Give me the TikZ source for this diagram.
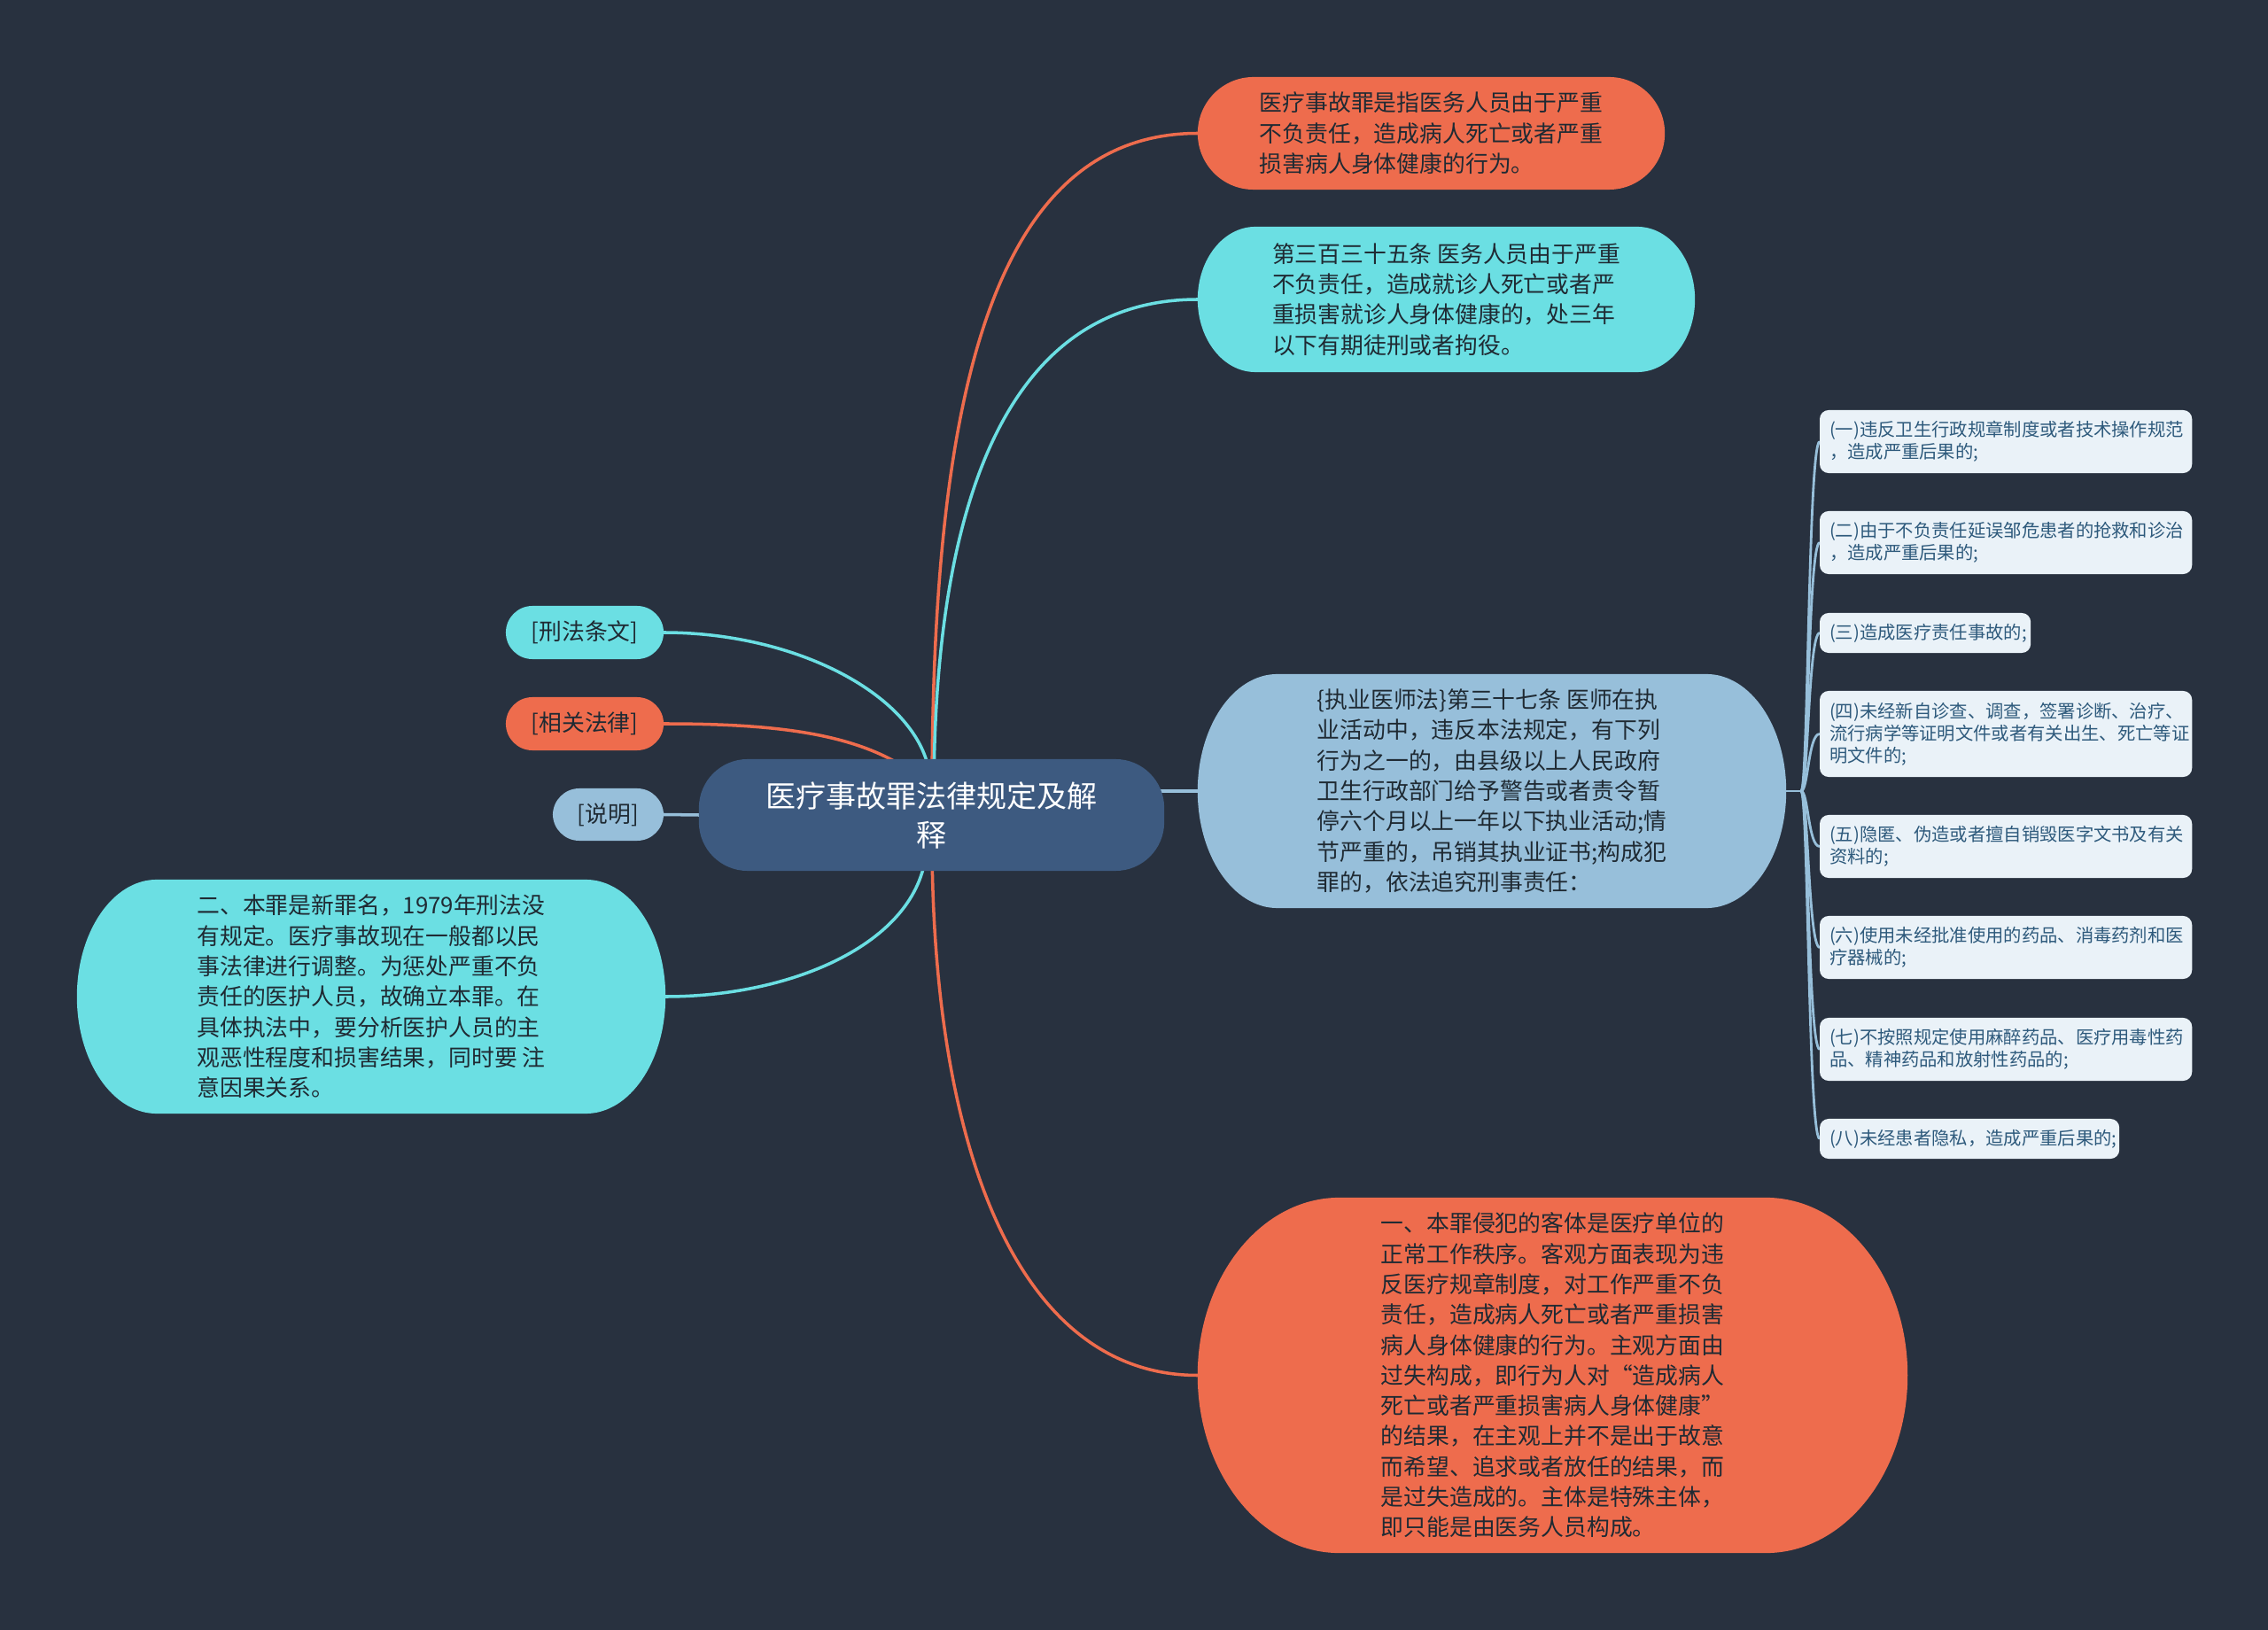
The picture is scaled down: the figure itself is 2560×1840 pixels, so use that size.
\documentclass[tikz,border=0pt]{standalone}
\usepackage{fontspec}
\newfontfamily\cjk{Noto Sans CJK SC}
\usetikzlibrary{calc}
\definecolor{bgc}{HTML}{28313F}
\definecolor{orn}{HTML}{EE6C4D}
\definecolor{cyn}{HTML}{6BDFE3}
\definecolor{lbl}{HTML}{97BFDA}
\definecolor{ctr}{HTML}{3D5A80}
\definecolor{itm}{HTML}{EAF2F8}
\definecolor{itx}{HTML}{2E5A7C}
\definecolor{ink}{HTML}{1F2A33}
\pgfdeclarelayer{bg}
\pgfdeclarelayer{edges}
\pgfdeclarelayer{fills}
\pgfsetlayers{bg,edges,fills,main}
\newcommand{\pillshape}[4]{%
\begin{pgfonlayer}{fills}
\fill[#2] ([xshift=#3]#1.north west) -- ([xshift=-#3]#1.north east)
  arc[start angle=90,end angle=-90,x radius=#3,y radius=#4]
  -- ([xshift=#3]#1.south west)
  arc[start angle=270,end angle=90,x radius=#3,y radius=#4] -- cycle;
\end{pgfonlayer}}
\tikzset{
  txt/.style={font=\cjk\fontsize{7.34pt}{9.76pt}\selectfont, text=ink, align=left, inner sep=0pt, outer sep=0pt},
  tag/.style={txt, rounded corners=0.3cm, minimum height=0.6cm, align=center},
  ctrbox/.style={font=\cjk\fontsize{9.67pt}{12.5pt}\selectfont, text=white, align=center,
     fill=ctr, rounded corners=0.55cm, minimum width=5.25cm, minimum height=1.26cm, inner sep=0pt, outer sep=0pt},
  item/.style={font=\cjk\fontsize{5.78pt}{7.11pt}\selectfont, text=itx, align=left, fill=itm,
     rounded corners=0.1cm, inner xsep=0.11cm, inner ysep=0pt, outer sep=0pt, anchor=west},
  conn/.style={line width=1pt},
  tree/.style={line width=0.8pt, lbl},
}
\begin{document}
\begin{tikzpicture}[x=0.01cm,y=-0.01cm]
\begin{pgfonlayer}{bg}
\fill[bgc] (0,0) rectangle (2560,1840);
\end{pgfonlayer}
\useasboundingbox (0,0) rectangle (2560,1840);

% central
\node[ctrbox] (C) at (1051.5,920) {医疗事故罪法律规定及解\\释};

% right main nodes
\node[txt, minimum width=5.27cm, minimum height=1.27cm] (T1) at (1615.5,150.5)
 {医疗事故罪是指医务人员由于严重\\不负责任，造成病人死亡或者严重\\损害病人身体健康的行为。};
\pillshape{T1}{orn}{0.63cm}{0.635cm}

\node[txt, minimum width=5.61cm, minimum height=1.64cm] (T2) at (1632.5,338)
 {第三百三十五条 医务人员由于严重\\不负责任，造成就诊人死亡或者严\\重损害就诊人身体健康的，处三年\\以下有期徒刑或者拘役。};
\pillshape{T2}{cyn}{0.65cm}{0.82cm}

\node[txt, minimum width=6.64cm, minimum height=2.64cm] (R) at (1684,893)
 {\{执业医师法\}第三十七条 医师在执\\业活动中，违反本法规定，有下列\\行为之一的，由县级以上人民政府\\卫生行政部门给予警告或者责令暂\\停六个月以上一年以下执业活动;情\\节严重的，吊销其执业证书;构成犯\\罪的，依法追究刑事责任：};
\pillshape{R}{lbl}{0.9cm}{1.32cm}

\node[txt, minimum width=8.01cm, minimum height=4.01cm] (B) at (1752.5,1552.5)
 {一、本罪侵犯的客体是医疗单位的\\正常工作秩序。客观方面表现为违\\反医疗规章制度，对工作严重不负\\责任，造成病人死亡或者严重损害\\病人身体健康的行为。主观方面由\\过失构成，即行为人对“造成病人\\死亡或者严重损害病人身体健康”\\的结果，在主观上并不是出于故意\\而希望、追求或者放任的结果，而\\是过失造成的。主体是特殊主体，\\即只能是由医务人员构成。};
\pillshape{B}{orn}{1.6cm}{2.005cm}

% left nodes
\node[txt, minimum width=6.64cm, minimum height=2.64cm] (L) at (419,1125)
 {二、本罪是新罪名，1979年刑法没\\有规定。医疗事故现在一般都以民\\事法律进行调整。为惩处严重不负\\责任的医护人员，故确立本罪。在\\具体执法中，要分析医护人员的主\\观恶性程度和损害结果，同时要 注\\意因果关系。};
\pillshape{L}{cyn}{0.9cm}{1.32cm}

\node[tag, fill=cyn, minimum width=1.78cm] (b1) at (660,714) {[刑法条文]};
\node[tag, fill=orn, minimum width=1.78cm] (b2) at (660,817) {[相关法律]};
\node[tag, fill=lbl, minimum width=1.25cm, minimum height=0.59cm] (b3) at (686.5,919.5) {[说明]};

% list items
\node[item, text width=3.98cm, minimum height=0.71cm] (i1) at (2054,498.5) {(一)违反卫生行政规章制度或者技术操作规范\\，造成严重后果的;};
\node[item, text width=3.98cm, minimum height=0.71cm] (i2) at (2054,612.5) {(二)由于不负责任延误邹危患者的抢救和诊治\\，造成严重后果的;};
\node[item, text width=2.16cm, minimum height=0.45cm] (i3) at (2054,714.5) {(三)造成医疗责任事故的;};
\node[item, text width=3.98cm, minimum height=0.97cm] (i4) at (2054,828.5) {(四)未经新自诊查、调查，签署诊断、治疗、\\流行病学等证明文件或者有关出生、死亡等证\\明文件的;};
\node[item, text width=3.98cm, minimum height=0.71cm] (i5) at (2054,955.5) {(五)隐匿、伪造或者擅自销毁医字文书及有关\\资料的;};
\node[item, text width=3.98cm, minimum height=0.71cm] (i6) at (2054,1069.5) {(六)使用未经批准使用的药品、消毒药剂和医\\疗器械的;};
\node[item, text width=3.98cm, minimum height=0.71cm] (i7) at (2054,1184.5) {(七)不按照规定使用麻醉药品、医疗用毒性药\\品、精神药品和放射性药品的;};
\node[item, text width=3.16cm, minimum height=0.45cm] (i8) at (2054,1285.5) {(八)未经患者隐私，造成严重后果的;};

% hidden attachment points inside the central node
\coordinate (cU) at (1052,900);
\coordinate (cU2) at (1054,900);
\coordinate (cA) at (1050,880);
\coordinate (cB) at (1065,905);
\coordinate (cD) at (1052,950);
\coordinate (cL) at (1046,950);
\coordinate (J) at (2033,893);

\begin{pgfonlayer}{edges}
\draw[orn, conn] (cU) .. controls (1052,460) and (1115,150.5) .. (T1.west);
\draw[cyn, conn] (cU2) .. controls (1054,560) and (1140,338) .. (T2.west);
\draw[lbl, conn] (C.center |- R.west) -- (R.west);
\draw[orn, conn] (cD) .. controls (1053,1300) and (1150,1552.5) .. (B.west);
\draw[cyn, conn] (b1.east) .. controls (905,714) and (1043,790) .. (cA);
\draw[orn, conn] (b2.east) .. controls (900,817) and (1005,832) .. (cB);
\draw[lbl, conn] (b3.east) -- (C.west);
\draw[cyn, conn] (L.east) .. controls (900,1125) and (1046,1060) .. (cL);
\draw[tree] (R.east) -- (J);
\foreach \i/\y in {1/498.5,2/612.5,3/714.5,4/828.5,5/955.5,6/1069.5,7/1184.5,8/1285.5}
  \draw[tree] (J) .. controls (2041,893) and (2041,\y) .. (i\i.west);
\end{pgfonlayer}
\end{tikzpicture}
\end{document}
